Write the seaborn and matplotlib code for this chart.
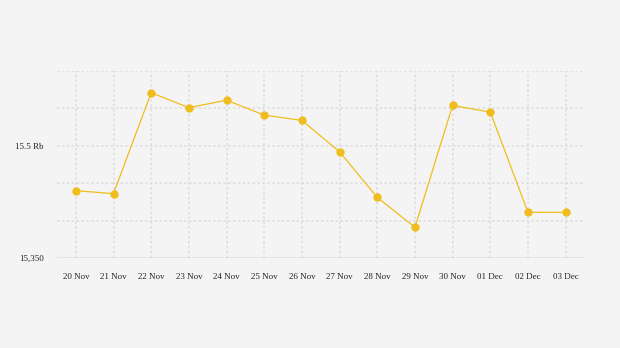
import matplotlib
matplotlib.use("Agg")
import matplotlib.pyplot as plt
import seaborn as sns
import pandas as pd

dates = ["20 Nov", "21 Nov", "22 Nov", "23 Nov", "24 Nov", "25 Nov", "26 Nov",
         "27 Nov", "28 Nov", "29 Nov", "30 Nov", "01 Dec", "02 Dec", "03 Dec"]
values = [15440, 15436, 15571, 15551, 15561, 15541, 15534,
          15492, 15431, 15391, 15554, 15545, 15411, 15411]
ytick_values = [15350, 15500]
ytick_labels = ["15,350", "15.5 Rb"]
grid_values = [15350, 15400, 15450, 15500, 15550, 15600]

sns.set_theme(style="white")
plt.rcParams['font.family'] = ['Liberation Serif', 'DejaVu Serif']

df = pd.DataFrame({"x": range(len(dates)), "y": values})

fig = plt.figure(figsize=(6.2, 3.48), dpi=100, facecolor="#f4f4f4")
ax = fig.add_axes([57/620, 1-258/348, (584.5-57)/620, (258-71)/348])
ax.set_facecolor("#f4f4f4")

for g in grid_values[1:]:
    ax.axhline(g, color="#dcdcdc", lw=1.1, ls=(0, (1.6, 1.6)), zorder=0)
ax.axhline(grid_values[0], color="#dedede", lw=1.1, zorder=0)
for i in range(len(dates)):
    ax.axvline(i, color="#dcdcdc", lw=1.1, ls=(0, (1.6, 1.6)), zorder=0)

sns.lineplot(data=df, x="x", y="y", ax=ax, color="#f0bd1e", lw=0.9,
             marker="o", markersize=6, markeredgewidth=0, zorder=3)

ax.set_xlim(-0.5, len(dates) - 0.5)
ax.set_ylim(15350, 15600)
ax.set_xticks(range(len(dates)))
ax.set_xticklabels(dates)
ax.set_yticks(ytick_values)
ax.set_yticklabels(ytick_labels)
ax.tick_params(axis="x", length=0, pad=10.5, labelsize=6.5, colors="#222222")
ax.tick_params(axis="y", length=0, pad=9.5, labelsize=6.5, colors="#222222")
ax.set_xlabel("")
ax.set_ylabel("")
for s in ax.spines.values():
    s.set_visible(False)

fig.savefig("out.png", dpi=100, facecolor="#f4f4f4")
